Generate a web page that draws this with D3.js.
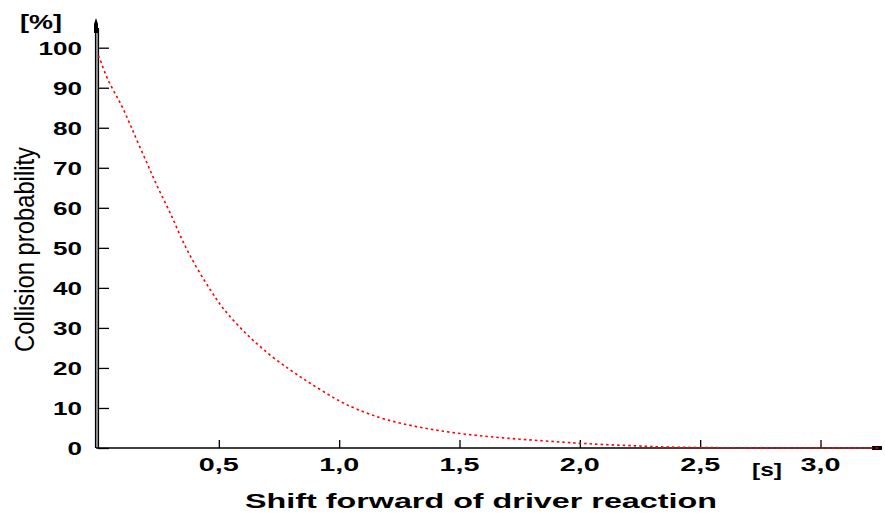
<!DOCTYPE html>
<html><head><meta charset="utf-8">
<script src="https://cdn.jsdelivr.net/npm/d3@7"></script>
<style>body{margin:0;background:#fff}svg{display:block}text{font-family:"Liberation Sans",Arial,sans-serif}</style>
</head><body><svg id="c" width="885" height="513"></svg>
<script>
const shiftSec = [0, 0.01, 0.035, 0.073, 0.098, 0.131, 0.164, 0.206, 0.235, 0.272, 0.305, 0.335, 0.368, 0.418, 0.468, 0.505, 0.538, 0.596, 0.646, 0.717, 0.796, 0.858, 0.929, 1.0, 1.07, 1.19, 1.336, 1.48, 1.67, 1.92, 2.04, 2.25, 2.35, 2.6, 2.9, 3.25];
const probability = [98, 96.5, 92.3, 88.1, 85.4, 80.9, 76.2, 70.6, 66.5, 61.9, 57.9, 53.6, 49.4, 43.9, 39.2, 35.8, 33.4, 29.5, 26.7, 22.9, 19.5, 17.0, 14.3, 11.7, 9.7, 7.0, 5.1, 3.7, 2.5, 1.5, 1.0, 0.5, 0.2, 0.05, 0, 0];
const yTicks = [0, 10, 20, 30, 40, 50, 60, 70, 80, 90, 100];
const xTicks = [0.5, 1.0, 1.5, 2.0, 2.5, 3.0];
const xTickLabels = ["0,5", "1,0", "1,5", "2,0", "2,5", "3,0"];

const svg = d3.select("#c");
const x = d3.scaleLinear().domain([0, 3.0]).range([98.5, 820.5]);
const y = d3.scaleLinear().domain([0, 100]).range([448, 47.7]);

// y axis double line
svg.append("rect").attr("x", 95).attr("y", 28).attr("width", 4).attr("height", 420).attr("fill", "#999");
svg.append("line").attr("x1", 95.5).attr("x2", 95.5).attr("y1", 28).attr("y2", 448).attr("stroke", "#000").attr("stroke-width", 1.2);
svg.append("line").attr("x1", 98.5).attr("x2", 98.5).attr("y1", 28).attr("y2", 448).attr("stroke", "#000").attr("stroke-width", 1.2);
svg.append("path").attr("d", "M94,33 L94,24 L96,18 L98,24 L98,33 Z").attr("fill", "#000");

// y ticks
const yAxis = d3.axisRight(y).tickValues(yTicks).tickSize(11).tickFormat("");
const gy = svg.append("g").attr("transform", "translate(98,0)").call(yAxis);
gy.select(".domain").remove();
gy.selectAll("line").attr("stroke", "#000").attr("stroke-width", 1.3);
svg.selectAll(".ylab").data(yTicks).join("text").attr("class", "ylab")
  .attr("x", 82).attr("y", d => y(d) + 7).attr("text-anchor", "end")
  .attr("font-size", 19).attr("font-weight", "bold")
  .attr("textLength", d => String(d).length * 14.5).attr("lengthAdjust", "spacingAndGlyphs")
  .text(d => d);

// x axis
svg.append("line").attr("x1", 96).attr("x2", 882).attr("y1", 448).attr("y2", 448).attr("stroke", "#000").attr("stroke-width", 1.5);
svg.append("rect").attr("x", 872).attr("y", 446).attr("width", 10).attr("height", 4).attr("fill", "#000");
const xAxis = d3.axisTop(x).tickValues(xTicks).tickSize(8).tickFormat("");
const gx = svg.append("g").attr("transform", "translate(0,448)").call(xAxis);
gx.select(".domain").remove();
gx.selectAll("line").attr("stroke", "#000").attr("stroke-width", 1.3);
svg.selectAll(".xlab").data(xTicks).join("text").attr("class", "xlab")
  .attr("x", d => x(d)).attr("y", 471).attr("text-anchor", "middle")
  .attr("font-size", 19).attr("font-weight", "bold")
  .attr("textLength", 40).attr("lengthAdjust", "spacingAndGlyphs")
  .text((d, i) => xTickLabels[i]);

// curve
const line = d3.line().x((d, i) => x(shiftSec[i])).y(d => y(d)).curve(d3.curveBasis);
svg.append("path").datum(probability).attr("d", line).attr("fill", "none")
  .attr("stroke", "#ff0000").attr("stroke-width", 1.6).attr("stroke-dasharray", "2.5,3");

// labels
svg.append("text").attr("x", 20).attr("y", 29).attr("font-size", 20).attr("font-weight", "bold")
  .attr("textLength", 42).attr("lengthAdjust", "spacingAndGlyphs").text("[%]");
svg.append("text").attr("x", 752).attr("y", 476).attr("font-size", 19).attr("font-weight", "bold")
  .attr("textLength", 30).attr("lengthAdjust", "spacingAndGlyphs").text("[s]");
svg.append("text").attr("x", 245).attr("y", 508).attr("font-size", 21).attr("font-weight", "bold")
  .attr("textLength", 472).attr("lengthAdjust", "spacingAndGlyphs").text("Shift forward of driver reaction");
svg.append("text").attr("transform", "translate(34,352) rotate(-90)").attr("font-size", 27)
  .attr("textLength", 205).attr("lengthAdjust", "spacingAndGlyphs").text("Collision probability");
</script></body></html>
